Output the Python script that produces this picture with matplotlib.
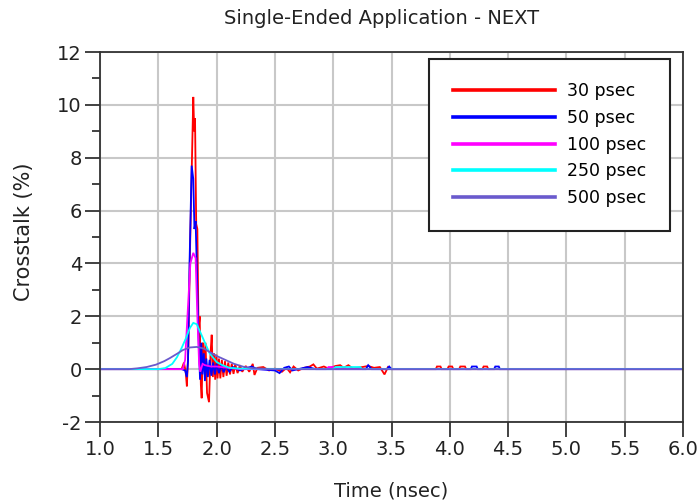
import numpy as np
import matplotlib
matplotlib.use('Agg')
import matplotlib.pyplot as plt
from matplotlib.lines import Line2D

# rise-time sweep, time in nsec, crosstalk in %
labels = ['30 psec', '50 psec', '100 psec', '250 psec', '500 psec']
colors = ['#ff0000', '#0000ff', '#ff00ff', '#00ffff', '#6a5acd']

t_30 = [1.00, 1.70, 1.72, 1.735, 1.745, 1.758, 1.772, 1.788, 1.800, 1.808, 1.815, 1.825,
        1.835, 1.845, 1.855, 1.865, 1.872, 1.882, 1.893, 1.905, 1.918, 1.935, 1.948, 1.958,
        1.968, 1.978, 1.988, 1.998, 2.008, 2.020, 2.032, 2.045, 2.058, 2.072, 2.086, 2.100,
        2.115, 2.130, 2.145, 2.160, 2.180, 2.200, 2.220, 2.250, 2.280, 2.310, 2.325, 2.350,
        2.400, 2.450, 2.500, 2.560, 2.600, 2.630, 2.660, 2.700, 2.750, 2.800, 2.830, 2.860,
        2.920, 2.960, 3.020, 3.060, 3.090, 3.130, 3.170, 3.250, 3.300, 3.350, 3.400, 3.440,
        3.470, 3.500, 3.880, 3.890, 3.920, 3.930, 3.980, 3.990, 4.020, 4.030, 4.080, 4.090,
        4.130, 4.140, 4.280, 4.290, 4.320, 4.330, 6.00]
v_30 = [0.00, 0.00, 0.25, -0.10, -0.65, 0.80, 4.50, 7.80, 10.30, 9.00, 9.50, 5.50,
        5.30, 1.50, 2.00, -0.60, -1.10, 1.00, 0.20, 1.00, -0.90, -1.25, 0.60, 1.30,
        -0.30, 0.60, -0.40, 0.55, -0.35, 0.40, -0.35, 0.35, -0.30, 0.30, -0.25, 0.25,
        -0.20, 0.20, -0.18, 0.18, -0.15, 0.15, -0.10, 0.12, -0.10, 0.20, -0.22, 0.05,
        0.08, -0.05, 0.02, -0.10, 0.05, -0.12, 0.10, -0.05, 0.05, 0.10, 0.18, 0.02,
        0.10, 0.02, 0.12, 0.15, 0.05, 0.15, 0.02, 0.08, 0.12, 0.05, 0.08, -0.20,
        0.08, 0.00, 0.00, 0.10, 0.10, 0.00, 0.00, 0.10, 0.10, 0.00, 0.00, 0.10,
        0.10, 0.00, 0.00, 0.10, 0.10, 0.00, 0.00]

t_50 = [1.00, 1.70, 1.730, 1.745, 1.755, 1.768, 1.786, 1.800, 1.810, 1.820, 1.835, 1.845,
        1.858, 1.868, 1.878, 1.890, 1.900, 1.912, 1.925, 1.940, 1.955, 1.970, 1.985, 2.000,
        2.020, 2.040, 2.060, 2.080, 2.110, 2.140, 2.200, 2.300, 2.350, 2.500, 2.540, 2.580,
        2.620, 2.650, 2.780, 2.850, 3.280, 3.300, 3.330, 3.460, 3.480, 3.500, 4.180, 4.190,
        4.230, 4.240, 4.380, 4.390, 4.420, 4.430, 6.00]
v_50 = [0.00, 0.00, -0.05, -0.30, 0.30, 4.00, 7.70, 7.20, 5.30, 5.60, 3.00, 1.20,
        -0.40, 1.00, -0.20, 0.60, -0.45, 0.40, -0.30, 0.35, -0.25, 0.25, -0.20, 0.20,
        -0.15, 0.15, -0.12, 0.10, -0.10, 0.08, -0.05, 0.10, 0.00, -0.05, -0.15, 0.05,
        0.10, -0.05, 0.08, 0.00, 0.00, 0.15, 0.00, 0.00, 0.10, 0.00, 0.00, 0.10,
        0.10, 0.00, 0.00, 0.10, 0.10, 0.00, 0.00]

t_100 = [1.00, 1.71, 1.73, 1.75, 1.775, 1.80, 1.82, 1.835, 1.85, 1.86, 1.88, 1.90,
         1.95, 2.00, 2.10, 2.20, 2.94, 2.96, 3.00, 3.02, 6.00]
v_100 = [0.00, 0.00, 0.35, 2.00, 4.00, 4.40, 4.20, 2.00, 0.20, -0.10, 0.20, 0.15,
         0.10, 0.10, 0.05, 0.00, 0.00, 0.08, 0.08, 0.00, 0.00]

t_250 = [1.00, 1.50, 1.56, 1.62, 1.66, 1.70, 1.74, 1.77, 1.80, 1.83, 1.86, 1.90,
         1.94, 2.00, 2.05, 2.11, 2.20, 2.80, 3.00, 3.02, 3.23, 3.25, 6.00]
v_250 = [0.00, 0.00, 0.04, 0.20, 0.45, 0.80, 1.20, 1.55, 1.75, 1.70, 1.40, 1.00,
         0.60, 0.27, 0.15, 0.05, 0.02, 0.00, 0.00, 0.08, 0.08, 0.00, 0.00]

t_500 = [1.00, 1.25, 1.32, 1.40, 1.48, 1.55, 1.60, 1.66, 1.71, 1.77, 1.83, 1.89,
         1.94, 2.00, 2.05, 2.09, 2.15, 2.23, 2.32, 2.45, 6.00]
v_500 = [0.00, 0.00, 0.03, 0.08, 0.17, 0.30, 0.42, 0.58, 0.72, 0.82, 0.84, 0.78,
         0.65, 0.50, 0.40, 0.32, 0.20, 0.09, 0.03, 0.00, 0.00]

series = [(t_30, v_30), (t_50, v_50), (t_100, v_100), (t_250, v_250), (t_500, v_500)]

plt.rcParams['font.family'] = 'DejaVu Sans'
plt.rcParams['axes.unicode_minus'] = False
fig = plt.figure(figsize=(7.0, 5.03), dpi=100)
ax = fig.add_axes([100/700, 1 - 422/503, 583/700, 370/503])

for (t, v), c in zip(series, colors):
    ax.plot(t, v, color=c, lw=1.3, solid_joinstyle='miter')

ax.set_xlim(1.0, 6.0)
ax.set_ylim(-2, 12)
ax.set_xticks(np.arange(1.0, 6.01, 0.5))
ax.set_xticklabels(['%.1f' % x for x in np.arange(1.0, 6.01, 0.5)])
ax.set_yticks(np.arange(-2, 13, 2))
ax.set_yticks(np.arange(-1, 12, 2), minor=True)
ax.grid(True, which='major', color='#c8c8c8', lw=1.5)
ax.set_axisbelow(True)
ax.tick_params(which='major', direction='out', length=11, width=1.3, color='#333333',
               labelsize=14, labelcolor='#222222', pad=2)
ax.tick_params(which='minor', direction='out', length=6, width=1.3, color='#333333')
for s in ax.spines.values():
    s.set_color('#333333')
    s.set_linewidth(1.3)

fig.text(382/700, 1 - 18/503, 'Single-Ended Application - NEXT', ha='center', va='center',
         fontsize=14, color='#222222')
fig.text(391/700, 1 - 491/503, 'Time (nsec)', ha='center', va='center',
         fontsize=14, color='#222222')
fig.text(24/700, 1 - 232/503, 'Crosstalk (%)', ha='center', va='center', rotation=90,
         fontsize=15, color='#222222')

handles = [Line2D([], [], color=c, lw=2.6) for c in colors]
leg = ax.legend(handles, labels, loc='upper right', bbox_to_anchor=(670/700, 1 - 59/503),
                bbox_transform=fig.transFigure, borderaxespad=0, fontsize=12.5,
                handlelength=5.9, handletextpad=0.7, borderpad=1.35, labelspacing=0.5,
                fancybox=False, framealpha=1, edgecolor='#222222')
leg.get_frame().set_linewidth(1.5)

fig.savefig('out.png', dpi=100)
